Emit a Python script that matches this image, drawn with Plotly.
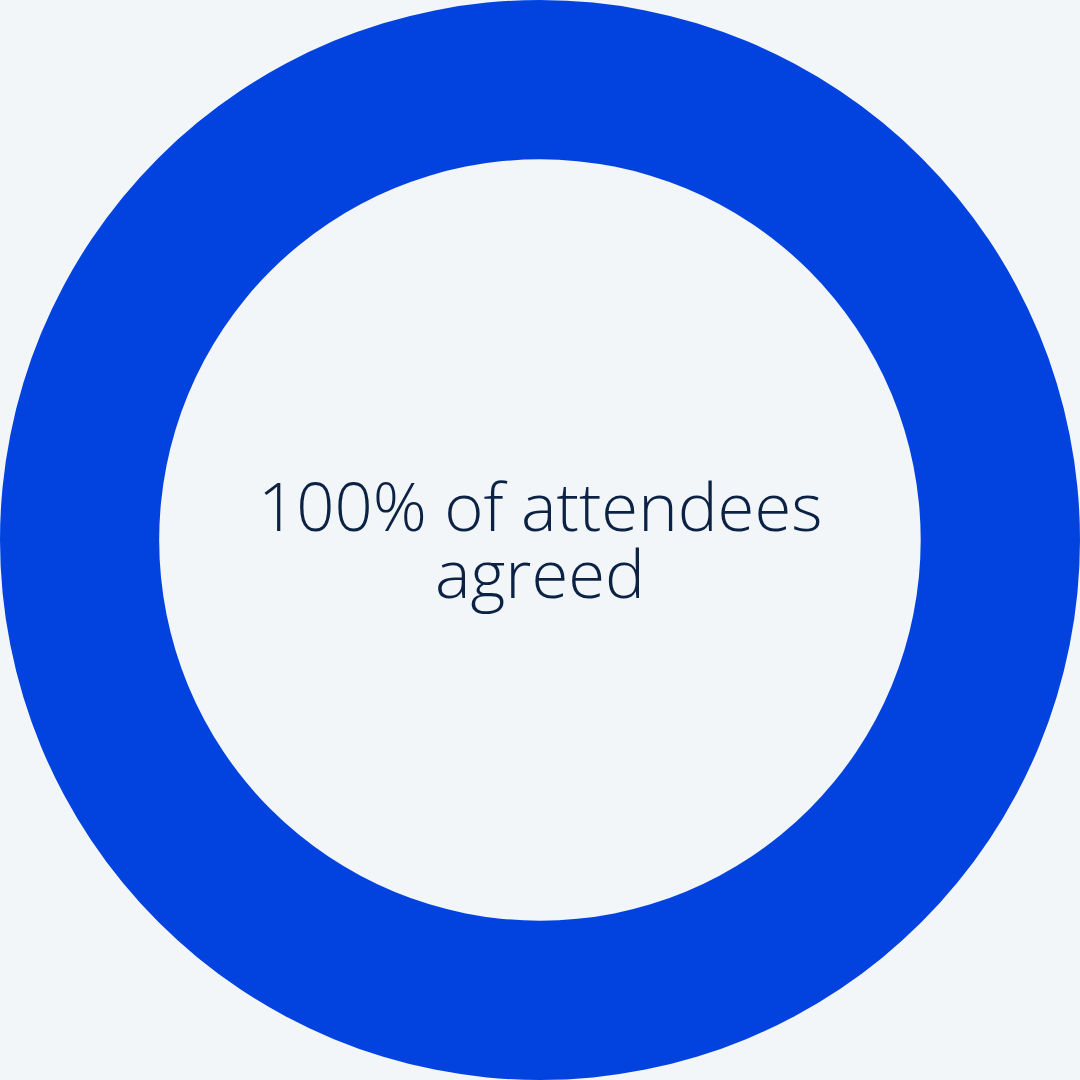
import plotly.graph_objects as go

labels = ["Agreed"]
values = [100]
center_lines = ["100% of attendees", "agreed"]

BG = "#F2F6F8"
BLUE = "#0243E0"
TEXT = "#0B2244"

fig = go.Figure()
fig.add_trace(
    go.Pie(
        labels=labels,
        values=values,
        hole=0.705,
        sort=False,
        direction="clockwise",
        textinfo="none",
        hoverinfo="none",
        marker=dict(colors=[BLUE], line=dict(width=0)),
        showlegend=False,
    )
)

# two lines placed separately to get the tight line spacing of the original;
# boxes trimmed so they stack without overlapping
line_boxes = [(505, 60, "middle"), (577, 82, "bottom")]
for line, (yc, h, va) in zip(center_lines, line_boxes):
    fig.add_annotation(
        x=0.5,
        y=1 - yc / 1080,
        xref="paper",
        yref="paper",
        text=line,
        showarrow=False,
        xanchor="center",
        yanchor="middle",
        height=h,
        valign=va,
        font=dict(family="Open Sans", size=67, color=TEXT, weight=300),
    )

fig.update_layout(
    width=1080,
    height=1080,
    margin=dict(l=0, r=0, t=0, b=0),
    paper_bgcolor=BG,
    plot_bgcolor=BG,
)
fig.write_html(
    "out.html",
    config={"displayModeBar": False},
    post_script="document.body.style.margin='0';document.body.style.background='%s';" % BG,
)
